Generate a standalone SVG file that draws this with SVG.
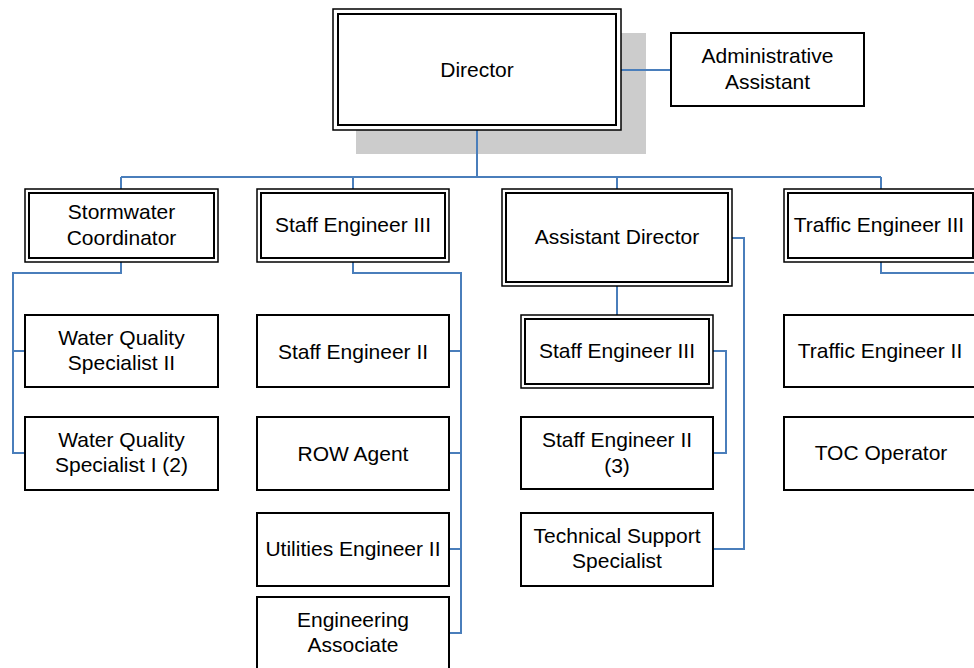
<svg xmlns="http://www.w3.org/2000/svg" width="974" height="668" viewBox="0 0 974 668">
<style>
.box{fill:#fff;stroke:#000;stroke-width:2}
.outer{fill:#fff;stroke:#000;stroke-width:1.5}
.inner{fill:none;stroke:#000;stroke-width:2}
.conn{fill:none;stroke:#4a7ebb;stroke-width:2}
text{font-family:"Liberation Sans",Arial,sans-serif;font-size:21px;fill:#000;text-anchor:middle}
</style>
<rect x="0" y="0" width="974" height="668" fill="#fff"/>
<rect id="director-shadow" x="356" y="33" width="290" height="121" fill="#cccccc"/>
<g id="connectors">
<path class="conn" d="M621,70 H671"/>
<path class="conn" d="M477,130 V177"/>
<path class="conn" d="M121,177 H881"/>
<path class="conn" d="M121,177 V189 M353,177 V189 M617,177 V189 M881,177 V189"/>
<path class="conn" d="M121,262 V273 H13 V453 H25 M13,351 H25"/>
<path class="conn" d="M353,262 V273 H461 V633 H449 M449,351 H461 M449,453 H461 M449,549 H461"/>
<path class="conn" d="M617,286 V315"/>
<path class="conn" d="M732,238 H744 V549 H713"/>
<path class="conn" d="M713,351 H726 V453 H713"/>
<path class="conn" d="M881,262 V273 H976"/>
</g>
<g id="director">
<rect class="outer" x="333" y="9" width="288" height="121"/>
<rect class="inner" x="338" y="14" width="278" height="111"/>
<text x="477" y="77">Director</text>
</g>
<g id="admin-assistant">
<rect class="box" x="671" y="33" width="193" height="73"/>
<text x="767.5" y="63">Administrative</text>
<text x="767.5" y="89">Assistant</text>
</g>
<g id="stormwater-coordinator">
<rect class="outer" x="25" y="189" width="193" height="73"/>
<rect class="inner" x="29" y="193" width="185" height="65"/>
<text x="121.5" y="219">Stormwater</text>
<text x="121.5" y="245">Coordinator</text>
</g>
<g id="staff-engineer-iii-a">
<rect class="outer" x="257" y="189" width="192" height="73"/>
<rect class="inner" x="261" y="193" width="184" height="65"/>
<text x="353" y="232">Staff Engineer III</text>
</g>
<g id="assistant-director">
<rect class="outer" x="502" y="189" width="230" height="97"/>
<rect class="inner" x="506" y="193" width="222" height="89"/>
<text x="617" y="244">Assistant Director</text>
</g>
<g id="traffic-engineer-iii">
<rect class="outer" x="784" y="189" width="193" height="73"/>
<rect class="inner" x="788" y="193" width="185" height="65"/>
<text x="879" y="232">Traffic Engineer III</text>
</g>
<g id="water-quality-specialist-ii">
<rect class="box" x="25" y="315" width="193" height="72"/>
<text x="121.5" y="345">Water Quality</text>
<text x="121.5" y="370">Specialist II</text>
</g>
<g id="water-quality-specialist-i">
<rect class="box" x="25" y="417" width="193" height="73"/>
<text x="121.5" y="447">Water Quality</text>
<text x="121.5" y="472">Specialist I (2)</text>
</g>
<g id="staff-engineer-ii-a">
<rect class="box" x="257" y="315" width="192" height="72"/>
<text x="353" y="359">Staff Engineer II</text>
</g>
<g id="row-agent">
<rect class="box" x="257" y="417" width="192" height="73"/>
<text x="353" y="461">ROW Agent</text>
</g>
<g id="utilities-engineer-ii">
<rect class="box" x="257" y="513" width="192" height="73"/>
<text x="353" y="556">Utilities Engineer II</text>
</g>
<g id="engineering-associate">
<rect class="box" x="257" y="597" width="192" height="75"/>
<text x="353" y="627">Engineering</text>
<text x="353" y="652">Associate</text>
</g>
<g id="staff-engineer-iii-b">
<rect class="outer" x="521" y="315" width="192" height="73"/>
<rect class="inner" x="525" y="319" width="184" height="65"/>
<text x="617" y="358">Staff Engineer III</text>
</g>
<g id="staff-engineer-ii-b">
<rect class="box" x="521" y="417" width="192" height="72"/>
<text x="617" y="447">Staff Engineer II</text>
<text x="617" y="473">(3)</text>
</g>
<g id="technical-support-specialist">
<rect class="box" x="521" y="513" width="192" height="73"/>
<text x="617" y="543">Technical Support</text>
<text x="617" y="568">Specialist</text>
</g>
<g id="traffic-engineer-ii">
<rect class="box" x="784" y="315" width="193" height="72"/>
<text x="880" y="358">Traffic Engineer II</text>
</g>
<g id="toc-operator">
<rect class="box" x="784" y="417" width="193" height="73"/>
<text x="881" y="460">TOC Operator</text>
</g>
</svg>
